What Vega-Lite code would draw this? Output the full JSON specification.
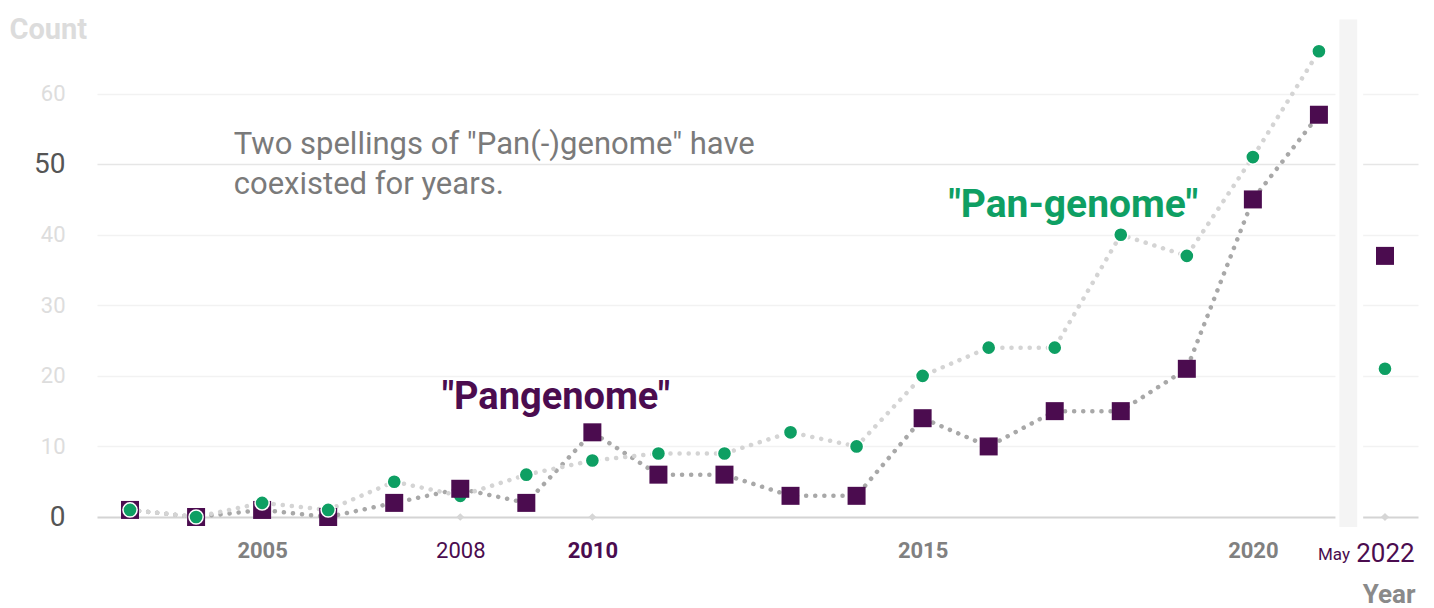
{
  "$schema": "https://vega.github.io/schema/vega-lite/v6.json",
  "width": 1321,
  "height": 494,
  "autosize": "none",
  "padding": {"left": 97, "top": 23, "right": 16, "bottom": 91},
  "background": "white",
  "config": {"view": {"stroke": null}, "font": "Roboto"},
  "datasets": {
    "counts": [
      {"year": 2003, "series": "Pangenome", "count": 1},
      {"year": 2003, "series": "Pan-genome", "count": 1},
      {"year": 2004, "series": "Pangenome", "count": 0},
      {"year": 2004, "series": "Pan-genome", "count": 0},
      {"year": 2005, "series": "Pangenome", "count": 1},
      {"year": 2005, "series": "Pan-genome", "count": 2},
      {"year": 2006, "series": "Pangenome", "count": 0},
      {"year": 2006, "series": "Pan-genome", "count": 1},
      {"year": 2007, "series": "Pangenome", "count": 2},
      {"year": 2007, "series": "Pan-genome", "count": 5},
      {"year": 2008, "series": "Pan-genome", "count": 3},
      {"year": 2008, "series": "Pangenome", "count": 4},
      {"year": 2009, "series": "Pangenome", "count": 2},
      {"year": 2009, "series": "Pan-genome", "count": 6},
      {"year": 2010, "series": "Pangenome", "count": 12},
      {"year": 2010, "series": "Pan-genome", "count": 8},
      {"year": 2011, "series": "Pangenome", "count": 6},
      {"year": 2011, "series": "Pan-genome", "count": 9},
      {"year": 2012, "series": "Pangenome", "count": 6},
      {"year": 2012, "series": "Pan-genome", "count": 9},
      {"year": 2013, "series": "Pangenome", "count": 3},
      {"year": 2013, "series": "Pan-genome", "count": 12},
      {"year": 2014, "series": "Pangenome", "count": 3},
      {"year": 2014, "series": "Pan-genome", "count": 10},
      {"year": 2015, "series": "Pangenome", "count": 14},
      {"year": 2015, "series": "Pan-genome", "count": 20},
      {"year": 2016, "series": "Pangenome", "count": 10},
      {"year": 2016, "series": "Pan-genome", "count": 24},
      {"year": 2017, "series": "Pangenome", "count": 15},
      {"year": 2017, "series": "Pan-genome", "count": 24},
      {"year": 2018, "series": "Pangenome", "count": 15},
      {"year": 2018, "series": "Pan-genome", "count": 40},
      {"year": 2019, "series": "Pangenome", "count": 21},
      {"year": 2019, "series": "Pan-genome", "count": 37},
      {"year": 2020, "series": "Pangenome", "count": 45},
      {"year": 2020, "series": "Pan-genome", "count": 51},
      {"year": 2021, "series": "Pangenome", "count": 57},
      {"year": 2021, "series": "Pan-genome", "count": 66},
      {"year": 2022, "series": "Pangenome", "count": 37},
      {"year": 2022, "series": "Pan-genome", "count": 21}
    ],
    "markers": [{"year": 2008, "count": 0}, {"year": 2010, "count": 0}, {"year": 2022, "count": 0}]
  },
  "layer": [
    {
      "data": {"name": "markers"},
      "mark": {"type": "point", "shape": "diamond", "filled": true, "size": 60, "color": "#d6d6d6", "opacity": 1},
      "encoding": {
        "x": {
          "field": "year", "type": "quantitative",
          "scale": {"domain": [2002.5, 2022.5], "nice": false, "zero": false},
          "axis": {
            "title": "Year",
            "values": [2005, 2008, 2010, 2015, 2020, 2022],
            "format": "d",
            "grid": false, "domain": false, "ticks": false,
            "labelPadding": 23,
            "labelFont": "Roboto",
            "labelColor": {"expr": "datum.value == 2008 || datum.value == 2010 || datum.value == 2022 ? '#4B0C4F' : '#808080'"},
            "labelFontWeight": {"expr": "datum.value == 2008 || datum.value == 2022 ? 'normal' : 'bold'"},
            "labelFontSize": {"expr": "datum.value == 2022 ? 26 : 22"},
            "titleFontSize": 26, "titleFontWeight": "bold", "titleColor": "#8a8a8a",
            "titleAnchor": "end", "titleAlign": "right", "titleBaseline": "middle",
            "titleX": 1318, "titleY": 77
          }
        },
        "y": {
          "field": "count", "type": "quantitative",
          "scale": {"domain": [0, 70], "nice": false, "zero": false},
          "axis": {
            "title": "Count",
            "values": [0, 10, 20, 30, 40, 50, 60],
            "grid": true, "domain": false, "ticks": false,
            "gridColor": {"expr": "datum.value == 0 ? '#d4d4d4' : datum.value == 50 ? '#e6e6e6' : '#f2f2f2'"},
            "gridWidth": {"expr": "datum.value == 0 ? 2 : 1.5"},
            "labelPadding": 32,
            "labelColor": {"expr": "datum.value == 0 || datum.value == 50 ? '#555555' : '#dddddd'"},
            "labelFontSize": {"expr": "datum.value == 0 || datum.value == 50 ? 28 : 22"},
            "titleAngle": 0, "titleAlign": "left", "titleBaseline": "middle",
            "titleX": -88, "titleY": 6,
            "titleFontSize": 29, "titleFontWeight": "bold", "titleColor": "#dcdcdc"
          }
        }
      }
    },
    {
      "data": {"values": [{}]},
      "mark": {"type": "rect", "color": "white"},
      "encoding": {
        "x": {"datum": 2021.25, "type": "quantitative"},
        "x2": {"datum": 2021.67},
        "y": {"datum": 70.5, "type": "quantitative"},
        "y2": {"datum": -1.6}
      }
    },
    {
      "data": {"values": [{}]},
      "mark": {"type": "rect", "color": "#f4f4f4"},
      "encoding": {
        "x": {"datum": 2021.31, "type": "quantitative"},
        "x2": {"datum": 2021.58},
        "y": {"datum": 70.5, "type": "quantitative"},
        "y2": {"datum": -1.4}
      }
    },
    {
      "data": {"name": "markers"},
      "transform": [{"filter": "datum.year == 2022"}],
      "mark": {"type": "point", "shape": "diamond", "filled": true, "size": 60, "color": "#d6d6d6", "opacity": 1},
      "encoding": {
        "x": {"field": "year", "type": "quantitative"},
        "y": {"field": "count", "type": "quantitative"}
      }
    },
    {
      "data": {"name": "counts"},
      "transform": [{"filter": "datum.year < 2022"}],
      "mark": {"type": "line", "strokeDash": [0.1, 9], "strokeCap": "round", "strokeWidth": 4.5},
      "encoding": {
        "x": {"field": "year", "type": "quantitative"},
        "y": {"field": "count", "type": "quantitative"},
        "stroke": {
          "field": "series", "type": "nominal",
          "scale": {"domain": ["Pangenome", "Pan-genome"], "range": ["#a8a8a8", "#d4d4d4"]},
          "legend": null
        }
      }
    },
    {
      "data": {"name": "counts"},
      "mark": {"type": "point", "filled": true, "opacity": 1, "stroke": "white"},
      "encoding": {
        "x": {"field": "year", "type": "quantitative"},
        "y": {"field": "count", "type": "quantitative"},
        "shape": {"field": "series", "type": "nominal", "scale": {"domain": ["Pangenome", "Pan-genome"], "range": ["square", "circle"]}, "legend": null},
        "fill": {"field": "series", "type": "nominal", "scale": {"domain": ["Pangenome", "Pan-genome"], "range": ["#4B0C4F", "#0E9F63"]}, "legend": null},
        "size": {"field": "series", "type": "ordinal", "scale": {"domain": ["Pangenome", "Pan-genome"], "range": [324, 200]}, "legend": null},
        "strokeWidth": {"field": "series", "type": "ordinal", "scale": {"domain": ["Pangenome", "Pan-genome"], "range": [0, 1.5]}, "legend": null}
      }
    },
    {
      "data": {"values": [{"year": 2004.57, "count": 51.4, "label": ["Two spellings of \"Pan(-)genome\" have", "coexisted for years."]}]},
      "mark": {"type": "text", "align": "left", "baseline": "alphabetic", "fontSize": 31, "color": "#7a7a7a", "lineHeight": 40},
      "encoding": {
        "x": {"field": "year", "type": "quantitative"},
        "y": {"field": "count", "type": "quantitative"},
        "text": {"field": "label"}
      }
    },
    {
      "data": {"values": [{"year": 2009.45, "count": 16.9, "label": "\"Pangenome\""}]},
      "mark": {"type": "text", "align": "center", "baseline": "middle", "fontSize": 38, "fontWeight": "bold", "color": "#4B0C4F"},
      "encoding": {
        "x": {"field": "year", "type": "quantitative"},
        "y": {"field": "count", "type": "quantitative"},
        "text": {"field": "label"}
      }
    },
    {
      "data": {"values": [{"year": 2017.28, "count": 44.2, "label": "\"Pan-genome\""}]},
      "mark": {"type": "text", "align": "center", "baseline": "middle", "fontSize": 39, "fontWeight": "bold", "color": "#0E9F63"},
      "encoding": {
        "x": {"field": "year", "type": "quantitative"},
        "y": {"field": "count", "type": "quantitative"},
        "text": {"field": "label"}
      }
    },
    {
      "data": {"values": [{"year": 2022, "count": 0, "label": "May"}]},
      "mark": {"type": "text", "align": "right", "baseline": "alphabetic", "fontSize": 17, "color": "#4B0C4F", "dx": -35, "dy": 43, "clip": false},
      "encoding": {
        "x": {"field": "year", "type": "quantitative"},
        "y": {"field": "count", "type": "quantitative"},
        "text": {"field": "label"}
      }
    }
  ]
}
